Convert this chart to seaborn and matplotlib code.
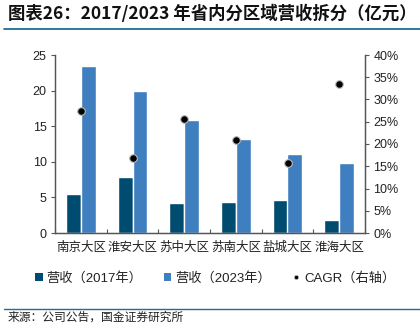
import matplotlib
matplotlib.use("Agg")
import matplotlib.pyplot as plt
import seaborn as sns
import pandas as pd
import numpy as np
from matplotlib.lines import Line2D
from matplotlib.patches import Patch
from matplotlib.ticker import FuncFormatter, MultipleLocator

regions = ["南京大区", "淮安大区", "苏中大区", "苏南大区", "盐城大区", "淮海大区"]
rev_2017 = [5.5, 7.9, 4.15, 4.3, 4.7, 1.8]
rev_2023 = [23.5, 20.0, 15.9, 13.2, 11.1, 9.8]
cagr = [0.275, 0.169, 0.256, 0.21, 0.158, 0.335]
series_names = ["营收（2017年）", "营收（2023年）", "CAGR（右轴）"]
left_ticks = [0, 5, 10, 15, 20, 25]

DARK = "#004b70"
LIGHT = "#3f7ebf"
AXC = "#555555"
LINEC = "#1f6e96"

sns.set_theme(style="white")
plt.rcParams["font.family"] = ["Liberation Sans", "Noto Sans CJK SC", "DejaVu Sans"]
CJK = ["Noto Sans CJK SC", "DejaVu Sans"]

df = pd.DataFrame({
    "region": regions * 2,
    "value": rev_2017 + rev_2023,
    "series": [series_names[0]] * len(regions) + [series_names[1]] * len(regions),
})

fig = plt.figure(figsize=(4.2, 3.25), dpi=100)
ax = fig.add_axes([55 / 420, (325 - 233) / 325, (365 - 55) / 420, (233 - 55) / 325])

sns.barplot(data=df, x="region", y="value", hue="series", palette=[DARK, LIGHT],
            width=0.58, gap=0, saturation=1, ax=ax, legend=False)

ax2 = ax.twinx()
sns.pointplot(x=regions, y=cagr, ax=ax2, color="black", linestyle="none",
              markers="o", markersize=5.5, markeredgecolor="#bbbbbb",
              markeredgewidth=0.8, errorbar=None)

ax.set_xlim(-0.5, 5.5)
ax.set_ylim(0, 25)
ax2.set_ylim(0, 0.40)
ax.set_yticks(left_ticks)
ax2.yaxis.set_major_locator(MultipleLocator(0.05))
ax2.yaxis.set_major_formatter(FuncFormatter(lambda v, p: f"{v*100:.0f}%"))

ax.set_xlabel("")
ax.set_ylabel("")
ax2.set_xlabel("")
ax2.set_ylabel("")

for a in (ax, ax2):
    a.spines["top"].set_visible(False)
    for s in ("left", "right", "bottom"):
        a.spines[s].set_color(AXC)
        a.spines[s].set_linewidth(0.9)
    a.grid(False)

ax.tick_params(axis="y", left=True, direction="out", length=3, width=0.8,
               color=AXC, labelsize=9, pad=3, labelcolor="#222222")
ax2.tick_params(axis="y", right=True, direction="out", length=3, width=0.8,
                color=AXC, labelsize=9, pad=3, labelcolor="#222222")
ax.set_xticks(np.arange(-0.5, 6, 1), minor=True)
ax.tick_params(axis="x", which="major", length=0, pad=6)
ax.tick_params(axis="x", which="minor", bottom=True, direction="in", length=3,
               width=0.8, color=AXC)
for lab in ax.get_xticklabels():
    lab.set_fontfamily(CJK)
    lab.set_fontsize(9)
    lab.set_color("#222222")

handles = [
    Patch(facecolor=DARK, edgecolor="none"),
    Patch(facecolor=LIGHT, edgecolor="none"),
    Line2D([], [], marker="o", linestyle="none", color="black",
           markersize=3, markeredgecolor="#bbbbbb", markeredgewidth=0.5),
]
leg = fig.legend(handles, series_names, loc="center", bbox_to_anchor=(0.512, 1 - 278 / 325),
                 ncol=3, frameon=False, handlelength=0.6, handleheight=0.6,
                 handletextpad=0.3, columnspacing=1.6,
                 prop={"family": ["Liberation Sans", "Noto Sans CJK SC"], "size": 9.5})
for t in leg.get_texts():
    t.set_fontfamily(["Liberation Sans", "Noto Sans CJK SC"])
    t.set_color("#222222")

fig.text(8 / 420, 1 - 14 / 325, "图表26：2017/2023 年省内分区域营收拆分（亿元）",
         fontsize=12.5, fontweight="bold", fontstyle="italic", va="center", ha="left",
         family=["Noto Sans CJK SC", "DejaVu Sans"], color="#111111")
fig.add_artist(Line2D([4 / 420, 1], [1 - 29 / 325, 1 - 29 / 325], color=LINEC, lw=1.3))
fig.add_artist(Line2D([4 / 420, 1], [1 - 309 / 325, 1 - 309 / 325], color=LINEC, lw=1.0))
fig.text(8 / 420, 1 - 324 / 325, "来源：公司公告，国金证券研究所", fontsize=8.5,
         va="bottom", ha="left", family=CJK, color="#222222")

fig.savefig("out.png", dpi=100)
